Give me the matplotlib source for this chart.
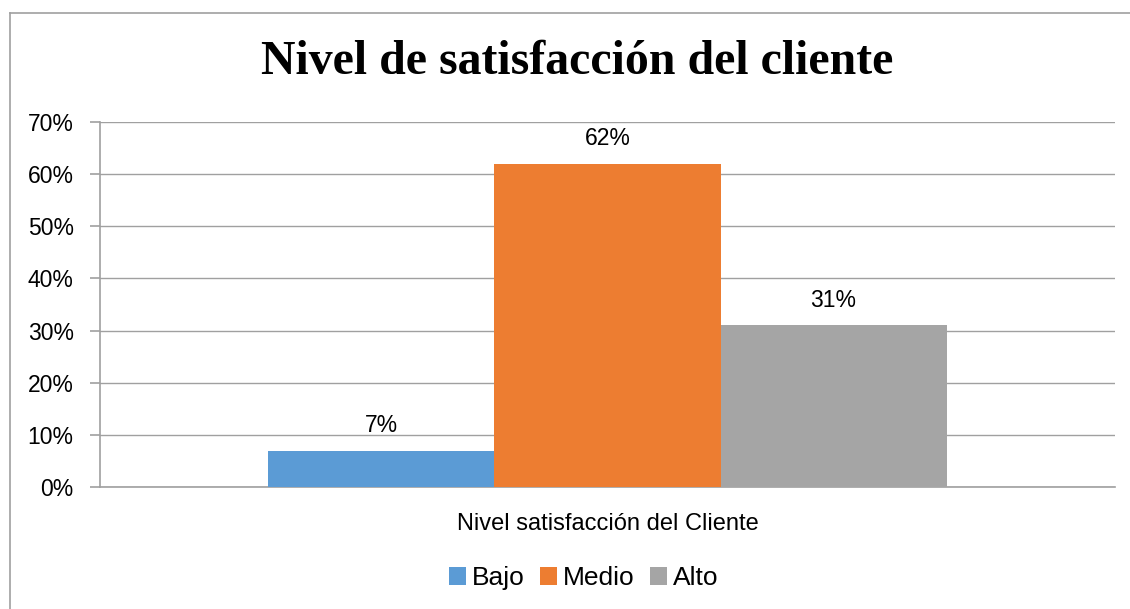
import matplotlib
matplotlib.use("Agg")
import matplotlib.pyplot as plt
from matplotlib.lines import Line2D
from matplotlib.patches import Patch

title = "Nivel de satisfacción del cliente"
category = "Nivel satisfacción del Cliente"
series = ["Bajo", "Medio", "Alto"]
values = [0.07, 0.62, 0.31]
colors = ["#5B9BD5", "#ED7D31", "#A5A5A5"]
yticks = [0, 0.1, 0.2, 0.3, 0.4, 0.5, 0.6, 0.7]
ytick_labels = ["0%", "10%", "20%", "30%", "40%", "50%", "60%", "70%"]

fig = plt.figure(figsize=(11.3, 6.09), dpi=100)
fig.patch.set_facecolor("white")
ax = fig.add_axes([100/1130, 1-487/609, 1015/1130, 365/609])

bw = 0.2227
offsets = [-bw, 0, bw]
for name, v, c, o in zip(series, values, colors, offsets):
    ax.bar(o, v, width=bw, color=c, label=name, zorder=3)
    ax.text(o, v + 0.026, f"{round(v*100)}%", ha="center", va="bottom",
            fontsize=16.5, family="Liberation Sans", color="#000000")

ax.set_xlim(-0.5, 0.5)
ax.set_ylim(0, 0.7)
ax.set_yticks(yticks)
ax.set_yticklabels(ytick_labels, family="Liberation Sans", fontsize=16.5)
ax.set_xticks([0])
ax.set_xticklabels([category], family="Liberation Sans", fontsize=17)
ax.tick_params(axis="x", length=0, pad=19)
ax.tick_params(axis="y", length=7, width=1.2, color="#A0A0A0", pad=12)
ax.grid(axis="y", color="#A0A0A0", linewidth=1.0, zorder=0)
for s in ["top", "right"]:
    ax.spines[s].set_visible(False)
ax.spines["left"].set_color("#A0A0A0")
ax.spines["left"].set_linewidth(1.2)
ax.spines["bottom"].set_color("#A0A0A0")
ax.spines["bottom"].set_linewidth(1.2)

fig.text(577/1130, 1-62/609, title, ha="center", va="center",
         family="Liberation Serif", fontweight="bold", fontsize=34.5)

handles = [Patch(facecolor=c, edgecolor="none") for c in colors]
leg = fig.legend(handles, series, loc="center", bbox_to_anchor=(584/1130, 1-578/609),
                 ncol=3, frameon=False, prop={"family": "Liberation Sans", "size": 19},
                 handlelength=0.65, handleheight=0.65, handletextpad=0.22, columnspacing=0.58)

# outer chart border (top and left)
fig.add_artist(Line2D([10/1130, 1], [1-13/609, 1-13/609], transform=fig.transFigure,
                      color="#A0A0A0", linewidth=1.2))
fig.add_artist(Line2D([10/1130, 10/1130], [0, 1-13/609], transform=fig.transFigure,
                      color="#A0A0A0", linewidth=1.2))

fig.savefig("out.png", dpi=100)
